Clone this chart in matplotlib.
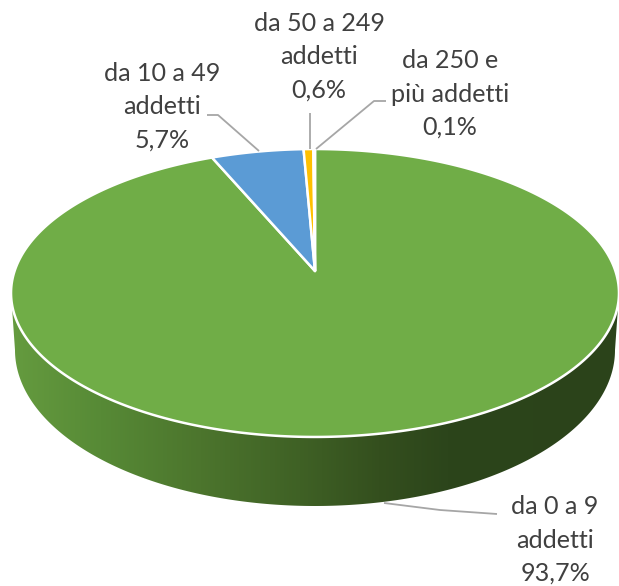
import numpy as np
import matplotlib
matplotlib.use("Agg")
import matplotlib.pyplot as plt
from matplotlib.patches import Polygon
from matplotlib.colors import LinearSegmentedColormap

categories = ["da 0 a 9\naddetti", "da 10 a 49\naddetti", "da 50 a 249\naddetti", "da 250 e\npiù addetti"]
values = [93.7, 5.7, 0.6, 0.1]
labels_pct = ["93,7%", "5,7%", "0,6%", "0,1%"]
colors = ["#70AD47", "#5B9BD5", "#FFC000", "#ED7D31"]

W, H = 619, 586
fig = plt.figure(figsize=(W / 100, H / 100), dpi=100)
ax = fig.add_axes([0, 0, 1, 1])
ax.set_xlim(0, W)
ax.set_ylim(H, 0)
ax.axis("off")

cx, cy, rx, ry = 315, 293, 304, 144
apex = (315, 271)
lcy, lrx, lry = 350, 300, 156
# perspective of the tilted disc
persp, k_y, k_x = 0.1528, 140.6, 300.4


def rim(a):
    a = np.asarray(a)
    d = 1 + persp * np.cos(a)
    return apex[0] + k_x * np.sin(a) / d, apex[1] - k_y * np.cos(a) / d


# side wall with horizontal gradient
t = np.linspace(np.pi, 0, 300)
lx, ly = cx + lrx * np.cos(t), lcy + lry * np.sin(t)
ux, uy = cx + rx * np.cos(t[::-1]), cy + ry * np.sin(t[::-1])
side = Polygon(np.r_[np.c_[[cx - rx], [cy]], np.c_[lx, ly], np.c_[[cx + rx], [cy]],
                     np.c_[ux, uy]], closed=True, fc="none", ec="none")
ax.add_patch(side)
cmap = LinearSegmentedColormap.from_list(
    "side", [(0, "#659B3F"), (0.146, "#578A36"), (0.31, "#4C752D"), (0.475, "#3F6125"),
             (0.607, "#344F1E"), (0.72, "#2C451B"), (1, "#2B431A")])
im = ax.imshow(np.linspace(0, 1, 512)[None, :], extent=[cx - rx, cx + rx, 520, 280],
               cmap=cmap, aspect="auto", zorder=1)
im.set_clip_path(side)
ax.set_xlim(0, W)
ax.set_ylim(H, 0)

# top face, clockwise from twelve o'clock
total = sum(values)
start = 0.0
for v, c in zip(values, colors):
    end = start + v / total * 2 * np.pi
    a = np.linspace(start, end, max(3, int(v * 6)))
    x, y = rim(a)
    ax.add_patch(Polygon(np.r_[[apex], np.c_[x, y]], closed=True, fc=c, ec="white",
                         lw=1.8, joinstyle="round", zorder=2))
    start = end

# leader lines
leader = "#A6A6A6"
for xs, ys in [([384, 440, 497], [503, 510, 514]),
               ([259, 218, 207], [151, 115, 115]),
               ([310, 310], [149, 113]),
               ([316, 374, 386], [149, 101, 101])]:
    ax.plot(xs, ys, color=leader, lw=1.3, zorder=3, solid_capstyle="butt")

# labels
positions = [(555, 540), (162, 107), (319, 57), (450, 94)]
for cat, pct, (x, y) in zip(categories, labels_pct, positions):
    ax.text(x, y, cat + "\n" + pct, ha="center", va="center", fontsize=18.1,
            family="Lato", color="#404040", linespacing=1.53, zorder=4)

fig.savefig("out.png", dpi=100)
